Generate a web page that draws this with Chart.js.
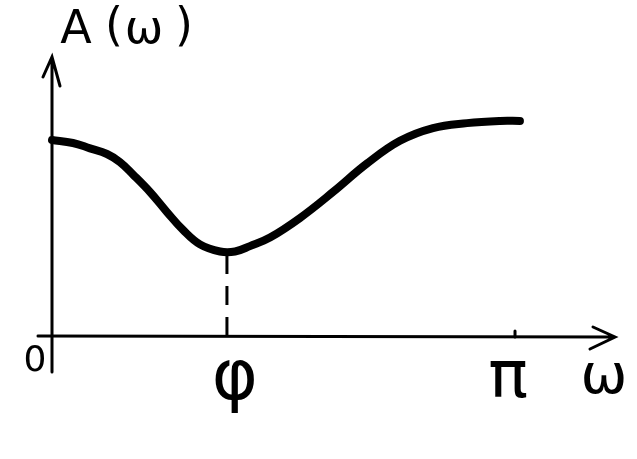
<!DOCTYPE html>
<html>
<head>
<meta charset="utf-8">
<script src="https://cdn.jsdelivr.net/npm/chart.js@4.4.1/dist/chart.umd.min.js"></script>
<style>
  html, body { margin: 0; padding: 0; background: #fff; }
  #sketch { display: block; }
</style>
</head>
<body>
<canvas id="sketch" width="637" height="459"></canvas>
<script>
// A(omega) sketch: amplitude response with a dip at phi
const omega = [0, 0.142, 0.258, 0.373, 0.461, 0.55, 0.665, 0.78, 0.889, 1.004, 1.14, 1.242, 1.343, 1.479, 1.683, 1.907, 2.137, 2.361, 2.585, 2.816, 3.04, 3.175];
const amplitude = [0.8, 0.788, 0.766, 0.743, 0.71, 0.659, 0.588, 0.506, 0.433, 0.374, 0.345, 0.345, 0.367, 0.402, 0.482, 0.588, 0.704, 0.797, 0.849, 0.869, 0.878, 0.878];
const phi = 1.187;
const phiLevel = 0.331;
const tickLabels = ["0", "φ", "π"];
const tickValues = [0, phi, Math.PI];

const axesPlugin = {
  id: "axes",
  beforeDatasetsDraw(chart) {
    const ctx = chart.ctx;
    const xs = chart.scales.x;
    const ys = chart.scales.y;
    const area = chart.chartArea;
    const x0 = xs.getPixelForValue(0);
    const y0 = ys.getPixelForValue(0);
    ctx.save();
    ctx.strokeStyle = "#000";
    ctx.lineWidth = 3;
    ctx.lineCap = "round";
    // x axis with arrow
    ctx.beginPath();
    ctx.moveTo(area.left, y0);
    ctx.lineTo(area.right, y0 + 1);
    ctx.moveTo(area.right - 22, y0 - 9);
    ctx.lineTo(area.right, y0 + 1);
    ctx.lineTo(area.right - 25, y0 + 13);
    ctx.stroke();
    // y axis with arrow
    ctx.beginPath();
    ctx.moveTo(x0, area.bottom);
    ctx.lineTo(x0, area.top);
    ctx.moveTo(x0 - 9, area.top + 20);
    ctx.lineTo(x0, area.top);
    ctx.lineTo(x0 + 8, area.top + 29);
    ctx.stroke();
    // tick at pi
    const xp = xs.getPixelForValue(Math.PI);
    ctx.beginPath();
    ctx.moveTo(xp, y0 - 5);
    ctx.lineTo(xp, y0 + 1);
    ctx.stroke();
    ctx.restore();
  },
  afterDraw(chart) {
    const ctx = chart.ctx;
    const xs = chart.scales.x;
    const y0 = chart.scales.y.getPixelForValue(0);
    ctx.save();
    ctx.fillStyle = "#000";
    ctx.textAlign = "center";
    ctx.textBaseline = "alphabetic";
    const fam = '"DejaVu Sans", sans-serif';
    // tick labels
    ctx.font = "36px " + fam;
    ctx.fillText(tickLabels[0], xs.getPixelForValue(tickValues[0]) - 17, y0 + 35);
    ctx.font = "70px " + fam;
    ctx.fillText(tickLabels[1], xs.getPixelForValue(tickValues[1]) + 8, y0 + 63);
    ctx.font = "66px " + fam;
    ctx.fillText(tickLabels[2], xs.getPixelForValue(tickValues[2]) - 7, y0 + 61);
    // axis titles
    ctx.font = "56px " + fam;
    ctx.fillText("ω", 604, y0 + 57);
    ctx.font = "46px " + fam;
    ctx.fillText("A", 76, 43);
    ctx.fillText("(", 114, 40);
    ctx.fillText("ω", 144, 43);
    ctx.fillText(")", 184, 40);
    ctx.restore();
  }
};

new Chart(document.getElementById("sketch"), {
  type: "line",
  data: {
    datasets: [
      {
        data: omega.map((w, i) => ({ x: w, y: amplitude[i] })),
        borderColor: "#000",
        borderWidth: 8,
        borderCapStyle: "round",
        borderJoinStyle: "round",
        tension: 0.4,
        pointRadius: 0,
        fill: false,
      },
      {
        data: [{ x: phi, y: 0 }, { x: phi, y: phiLevel }],
        borderColor: "#000",
        borderWidth: 3,
        borderDash: [19, 12],
        pointRadius: 0,
        fill: false,
      },
    ],
  },
  plugins: [axesPlugin],
  options: {
    responsive: false,
    animation: false,
    layout: {
      padding: { left: 38, right: 22, top: 57, bottom: 87 },
    },
    plugins: {
      legend: { display: false },
      tooltip: { enabled: false },
    },
    scales: {
      x: { type: "linear", min: -0.095, max: 3.82, display: false },
      y: { type: "linear", min: -0.147, max: 1.139, display: false },
    },
  },
});
</script>
</body>
</html>
